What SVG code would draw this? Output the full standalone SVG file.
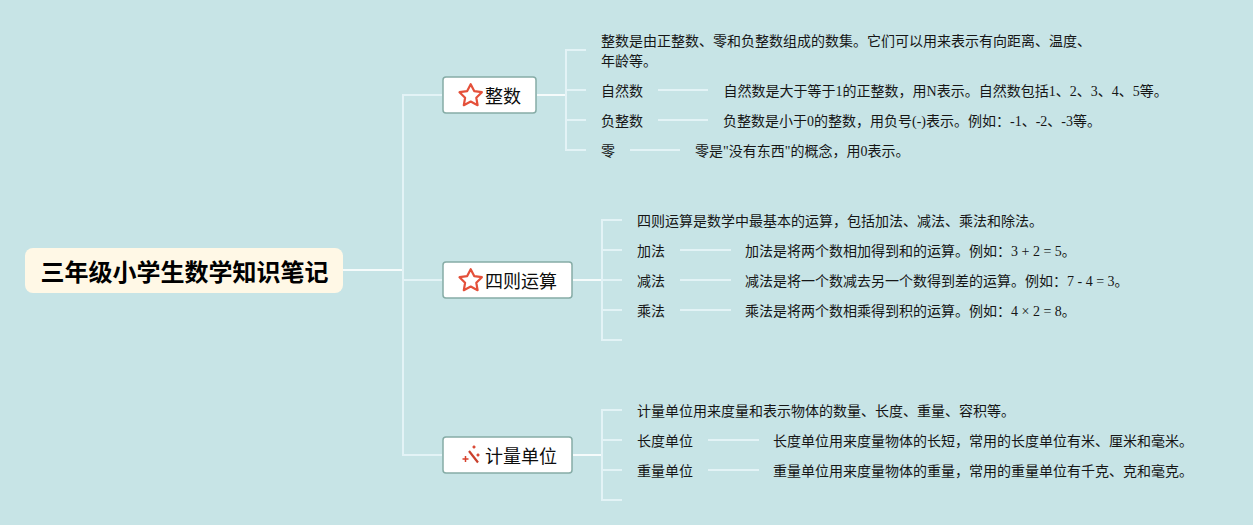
<svg xmlns="http://www.w3.org/2000/svg" width="1253" height="525" viewBox="0 0 1253 525">
<style>
text{font-family:"Liberation Serif","Noto Sans CJK SC",sans-serif;fill:#161616}
.t{font-size:14px}
.n{font-size:18px;fill:#0d0d0d}
.box{fill:#fff;stroke:#86aca6;stroke-width:1.5}
.c{fill:none;stroke:#e3f3f6;stroke-width:2}
.m{stroke:#f5fbfb;stroke-width:2}
.star{fill:#fff;stroke:#e4503a;stroke-width:2.200;stroke-linejoin:round}
</style>
<defs><path id="star" d="M0-10.800 3.500-3.900 11.200-2.800 5.600 2.700 6.900 10.200 0 6.600-6.900 10.200-5.600 2.700-11.200-2.800-3.500-3.900Z"/></defs>
<rect width="1253" height="525" fill="#c7e4e6"/>
<g id="connectors">
<path class="c m" d="M343 270H403M537 95H566M573 280H602M573 455H602"/>
<path class="c" d="M442 95H403V455H442M403 280H442"/>
<path class="c" d="M586 50H566V150H586M566 90H586M566 120H586"/>
<path class="c" d="M622 220H602V340H622M602 250H622M602 280H622M602 310H622"/>
<path class="c" d="M622 410H602V500H622M602 440H622M602 470H622"/>
<path class="c" d="M658 90H708M658 120H708M630 150H680M680 250H731M680 280H731M680 310H731M708 440H759M708 470H759"/>
</g>
<g id="root"><rect x="25" y="248" width="318" height="45" rx="8" fill="#fff8e6"/><text x="40.500" y="281" font-size="24" font-weight="700" style="fill:#000">三年级小学生数学知识笔记</text></g>
<g id="n1"><rect class="box" x="443" y="77" width="93" height="36" rx="3"/><use href="#star" class="star" x="470.700" y="95"/><text class="n" x="485" y="103">整数</text></g>
<g id="n2"><rect class="box" x="443" y="262" width="129" height="36" rx="3"/><use href="#star" class="star" x="470.700" y="280"/><text class="n" x="485" y="288">四则运算</text></g>
<g id="n3"><rect class="box" x="443" y="437" width="129" height="36" rx="3"/><path d="M469 451 478 462.500" fill="none" stroke="#c9402c" stroke-width="2.200"/><path d="M462.500 459h6M465.500 456v6M472.500 447h3M474 445.500v3M476.500 455h3M478 453.500v3" stroke="#d8402c" stroke-width="1.500" fill="none"/><text class="n" x="485" y="463">计量单位</text></g>
<g id="t1"><text class="t" x="601" y="46">整数是由正整数、零和负整数组成的数集。它们可以用来表示有向距离、温度、</text><text class="t" x="601" y="66">年龄等。</text></g>
<g id="t2"><text class="t" x="601" y="96">自然数</text><text class="t" x="723.600" y="96">自然数是大于等于1的正整数，用N表示。自然数包括1、2、3、4、5等。</text></g>
<g id="t3"><text class="t" x="601" y="126">负整数</text><text class="t" x="723" y="126">负整数是小于0的整数，用负号(-)表示。例如：-1、-2、-3等。</text></g>
<g id="t4"><text class="t" x="601" y="156">零</text><text class="t" x="695" y="156">零是"没有东西"的概念，用0表示。</text></g>
<g id="t5"><text class="t" x="637" y="226">四则运算是数学中最基本的运算，包括加法、减法、乘法和除法。</text></g>
<g id="t6"><text class="t" x="637" y="256">加法</text><text class="t" x="745" y="256">加法是将两个数相加得到和的运算。例如：3 + 2 = 5。</text></g>
<g id="t7"><text class="t" x="637" y="286">减法</text><text class="t" x="745" y="286">减法是将一个数减去另一个数得到差的运算。例如：7 - 4 = 3。</text></g>
<g id="t8"><text class="t" x="637" y="316">乘法</text><text class="t" x="745" y="316">乘法是将两个数相乘得到积的运算。例如：4 × 2 = 8。</text></g>
<g id="t9"><text class="t" x="637" y="416">计量单位用来度量和表示物体的数量、长度、重量、容积等。</text></g>
<g id="t10"><text class="t" x="637" y="446">长度单位</text><text class="t" x="773" y="446">长度单位用来度量物体的长短，常用的长度单位有米、厘米和毫米。</text></g>
<g id="t11"><text class="t" x="637" y="476">重量单位</text><text class="t" x="773" y="476">重量单位用来度量物体的重量，常用的重量单位有千克、克和毫克。</text></g>
</svg>
